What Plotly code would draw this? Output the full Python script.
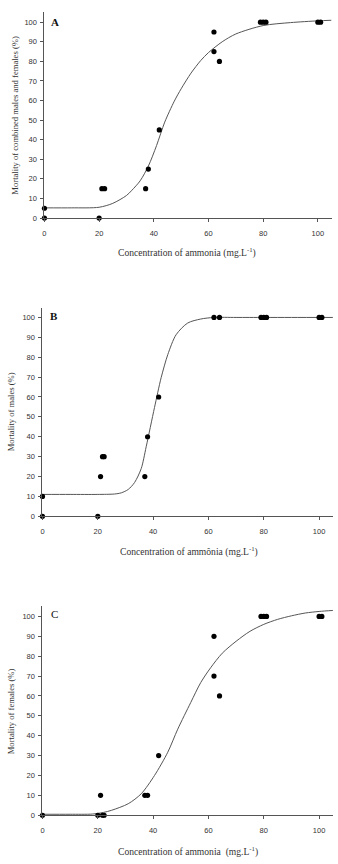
import plotly.graph_objects as go

# ---------- data ----------
# Panel A: combined males and females
a_x = [0, 0, 20, 21, 22, 37, 38, 42, 62, 62, 64, 79, 80, 81, 100, 101]
a_y = [0, 5, 0, 15, 15, 15, 25, 45, 95, 85, 80, 100, 100, 100, 100, 100]
a_curve_x = [0, 10, 20, 25, 30, 32, 35, 38, 41, 44, 47.5, 50, 53.6, 57.2, 60, 65, 70, 80, 90, 100, 105]
a_curve_y = [5.2, 5.2, 5.5, 7.5, 11.5, 14.2, 19, 26.5, 37, 49, 59.7, 66, 74, 80.5, 84.5, 90, 94, 98.3, 99.8, 100.7, 101]

# Panel B: males
b_x = [0, 0, 20, 21, 21.7, 22.3, 37, 38, 42, 62, 64, 79, 80, 81, 100, 101]
b_y = [0, 10, 0, 20, 30, 30, 20, 40, 60, 100, 100, 100, 100, 100, 100, 100]
b_curve_x = [0, 10, 20, 26, 28.5, 31, 33.3, 35.7, 37.5, 40.5, 42.9, 45.3, 48.3, 52.5, 57.2, 62, 70, 80, 90, 105]
b_curve_y = [11, 11, 11, 11.2, 11.8, 13.5, 17, 24, 35, 54.7, 69.7, 81.3, 91.3, 97.2, 99.2, 100, 100, 100, 100, 100]

# Panel C: females
c_x = [0, 20, 21, 21.7, 22.3, 37, 38, 42, 62, 62, 64, 79, 80, 81, 100, 101]
c_y = [0, 0, 10, 0, 0, 10, 10, 30, 90, 70, 60, 100, 100, 100, 100, 100]
c_curve_x = [0, 10, 18, 22, 25, 31, 35.7, 40.5, 45.3, 48.9, 53.6, 57.2, 60.8, 65, 70, 75, 80, 85, 90, 95, 100, 105]
c_curve_y = [0.5, 0.5, 0.6, 1.4, 2.5, 5.8, 10.8, 20, 31.7, 43.3, 56.7, 66.7, 74.2, 81.5, 87.5, 92.5, 96, 98.5, 100.3, 101.7, 102.5, 103]

y_ticks = [0, 10, 20, 30, 40, 50, 60, 70, 80, 90, 100]
x_ticks = [0, 20, 40, 60, 80, 100]

y_titles = ["Mortality of combined males and females (%)", "Mortality of males (%)", "Mortality of females (%)"]
x_titles = ["Concentration of ammonia (mg.L<sup>-1</sup>)",
            "Concentration of ammônia (mg.L<sup>-1</sup>)",
            "Concentration of ammonia  (mg.L<sup>-1</sup>)"]
letters = ["<b>A</b>", "<b>B</b>", "C"]

# ---------- figure ----------
W, H = 338, 864
fig = go.Figure()

panels = [(a_x, a_y, a_curve_x, a_curve_y), (b_x, b_y, b_curve_x, b_curve_y), (c_x, c_y, c_curve_x, c_curve_y)]
# pixel geometry: (x_left, x_right, y_bottom, y_top)
geo = [(42.7, 331.5, 219.3, 12.5), (40.7, 332.9, 519.3, 309.3), (40.7, 332.9, 820.0, 610.0)]
ytitle_x = [13.5, 8.5, 8.5]
xtitle_pos = [(186, 254), (188, 555), (187.5, 856)]
letter_pos = [(53, 22), (52.5, 317.5), (52.5, 618)]

serif = "Liberation Serif, Times New Roman, serif"
sans = "Liberation Sans, Arial, sans-serif"

for i, (px, py, cx, cy) in enumerate(panels):
    n = "" if i == 0 else str(i + 1)
    fig.add_trace(go.Scatter(x=cx, y=cy, mode="lines", line=dict(color="#555", width=1, shape="spline", smoothing=0.8),
                             xaxis="x" + n, yaxis="y" + n, showlegend=False, hoverinfo="skip", cliponaxis=False))
    fig.add_trace(go.Scatter(x=px, y=py, mode="markers", marker=dict(color="black", size=5.2),
                             xaxis="x" + n, yaxis="y" + n, showlegend=False, cliponaxis=False))
    xl, xr, yb, yt = geo[i]
    axis_common = dict(showline=True, linecolor="#555", linewidth=1, ticks="outside", ticklen=3,
                       tickcolor="#555", tickwidth=1, showgrid=False, zeroline=False,
                       tickfont=dict(family=sans, size=7.5, color="#333"))
    fig.update_layout(**{
        "xaxis" + n: dict(domain=[xl / W, xr / W], range=[0, 105], tickvals=x_ticks,
                          anchor="y" + n, ticklabelstandoff=5, **axis_common),
        "yaxis" + n: dict(domain=[(H - yb) / H, (H - yt) / H], range=[0, 105], tickvals=y_ticks,
                          anchor="x" + n, ticklabelstandoff=2, **axis_common),
    })
    fig.add_annotation(x=ytitle_x[i] / W, y=(H - (yb + yt) / 2) / H, xref="paper", yref="paper",
                       text=y_titles[i], textangle=-90, showarrow=False,
                       font=dict(family=serif, size=8.6, color="#333"), xanchor="center", yanchor="middle")
    fig.add_annotation(x=xtitle_pos[i][0] / W, y=(H - xtitle_pos[i][1]) / H, xref="paper", yref="paper",
                       text=x_titles[i], showarrow=False,
                       font=dict(family=serif, size=9.6, color="#333"), xanchor="center", yanchor="middle")
    fig.add_annotation(x=letter_pos[i][0] / W, y=(H - letter_pos[i][1]) / H, xref="paper", yref="paper",
                       text=letters[i], showarrow=False,
                       font=dict(family=serif, size=11, color="#111"), xanchor="center", yanchor="middle")

fig.update_layout(width=W, height=H, margin=dict(l=0, r=0, t=0, b=0),
                  paper_bgcolor="white", plot_bgcolor="white", showlegend=False)

fig.write_html("out.html", config={"displayModeBar": False},
               post_script="document.body.style.margin='0';document.body.style.padding='0';"
                           "document.body.style.overflow='hidden';")
